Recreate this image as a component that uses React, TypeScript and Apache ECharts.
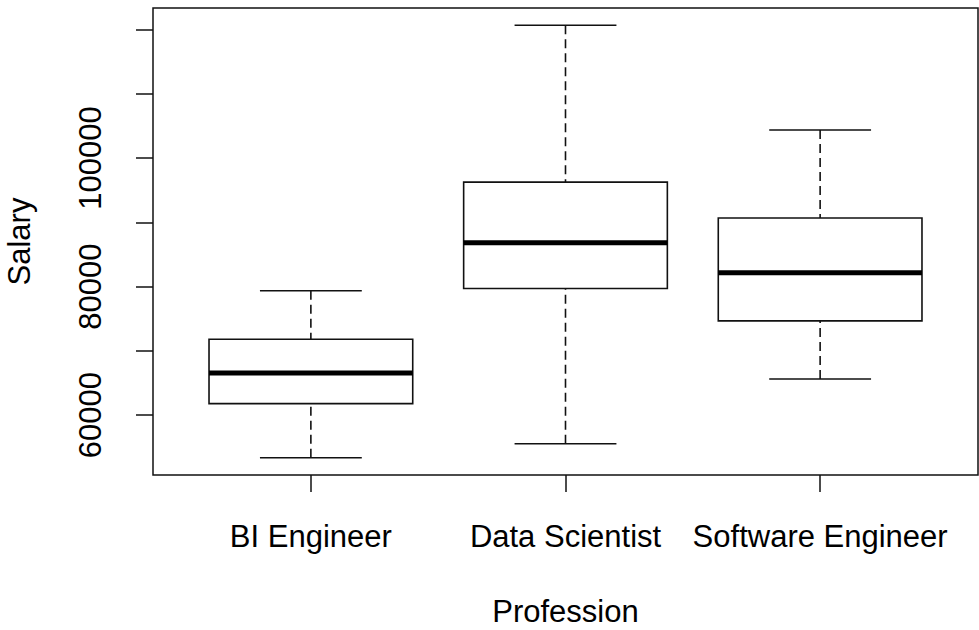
import React, { useEffect, useRef } from "react";
import * as echarts from "echarts";

const categories = ["BI Engineer", "Data Scientist", "Software Engineer"];
const lowerWhisker = [53360, 55540, 65620];
const firstQuartile = [61780, 79710, 74660];
const medianValues = [66550, 86830, 82150];
const thirdQuartile = [71810, 96250, 90680];
const upperWhisker = [79340, 120670, 104360];
const yTicks = [60000, 70000, 80000, 90000, 100000, 110000, 120000];
const yLabels = [60000, 80000, 100000];

const FONT = "Liberation Sans, Arial, sans-serif";

export default function App() {
  const ref = useRef<HTMLDivElement>(null);
  useEffect(() => {
    if (!ref.current) return;
    const chart = echarts.init(ref.current, null, { renderer: "svg" });
    const allLo = Math.min(...lowerWhisker);
    const allHi = Math.max(...upperWhisker);
    const range = allHi - allLo;
    const data = categories.map((_, i) => [
      i + 1,
      lowerWhisker[i],
      firstQuartile[i],
      medianValues[i],
      thirdQuartile[i],
      upperWhisker[i],
    ]);
    const n = categories.length;
    chart.setOption({
      animation: false,
      backgroundColor: "#fff",
      grid: {
        left: 153,
        right: 1,
        top: 8,
        bottom: 155,
        show: true,
        borderColor: "#111",
        borderWidth: 1.5,
        backgroundColor: "transparent",
        outerBoundsMode: "none",
        containLabel: false,
      },
      xAxis: {
        type: "value",
        min: 1 - 0.5 - 0.04 * n,
        max: n + 0.5 + 0.04 * n,
        splitLine: { show: false },
        axisLine: { show: false, onZero: false },
        axisTick: {
          show: true,
          customValues: categories.map((_, i) => i + 1),
          length: 17,
          lineStyle: { color: "#111", width: 1.5 },
        },
        axisLabel: {
          customValues: categories.map((_, i) => i + 1),
          formatter: (v: number) => categories[Math.round(v) - 1] ?? "",
          fontFamily: FONT,
          fontSize: 31,
          color: "#000",
          margin: 46,
        },
        name: "Profession",
        nameLocation: "middle",
        nameGap: 121,
        nameTextStyle: {
          fontFamily: FONT,
          fontSize: 31,
          color: "#000",
        },
      },
      yAxis: {
        type: "value",
        min: allLo - 0.04 * range,
        max: allHi + 0.04 * range,
        splitLine: { show: false },
        axisLine: { show: false, onZero: false },
        axisTick: {
          show: true,
          customValues: yTicks,
          length: 17,
          lineStyle: { color: "#111", width: 1.5 },
        },
        axisLabel: {
          customValues: yLabels,
          formatter: (v: number) => String(v),
          rotate: 90,
          fontFamily: FONT,
          fontSize: 31,
          color: "#000",
          margin: 47,
        },
        name: "Salary",
        nameLocation: "middle",
        nameGap: 118,
        nameTextStyle: {
          fontFamily: FONT,
          fontSize: 31,
          color: "#000",
        },
      },
      series: [
        {
          type: "custom",
          data,
          encode: { x: 0, y: [1, 2, 3, 4, 5] },
          renderItem: (params: any, api: any) => {
            const x = api.value(0);
            const lo = api.coord([x, api.value(1)]);
            const q1 = api.coord([x, api.value(2)]);
            const md = api.coord([x, api.value(3)]);
            const q3 = api.coord([x, api.value(4)]);
            const hi = api.coord([x, api.value(5)]);
            const halfW = api.size([0.8, 0])[0] / 2;
            const capHalf = halfW / 2;
            const cx = lo[0];
            const stroke = { stroke: "#111", lineWidth: 1.6, fill: null };
            return {
              type: "group",
              children: [
                {
                  type: "line",
                  shape: { x1: cx, y1: lo[1], x2: cx, y2: q1[1] },
                  style: { ...stroke, lineDash: [9, 5] },
                },
                {
                  type: "line",
                  shape: { x1: cx, y1: hi[1], x2: cx, y2: q3[1] },
                  style: { ...stroke, lineDash: [9, 5] },
                },
                {
                  type: "line",
                  shape: { x1: cx - capHalf, y1: lo[1], x2: cx + capHalf, y2: lo[1] },
                  style: stroke,
                },
                {
                  type: "line",
                  shape: { x1: cx - capHalf, y1: hi[1], x2: cx + capHalf, y2: hi[1] },
                  style: stroke,
                },
                {
                  type: "rect",
                  shape: { x: cx - halfW, y: q3[1], width: 2 * halfW, height: q1[1] - q3[1] },
                  style: { stroke: "#111", lineWidth: 1.6, fill: "#fff" },
                },
                {
                  type: "line",
                  shape: { x1: cx - halfW, y1: md[1], x2: cx + halfW, y2: md[1] },
                  style: { stroke: "#000", lineWidth: 5 },
                },
              ],
            };
          },
        },
      ],
    });
    return () => chart.dispose();
  }, []);
  return (
    <div
      ref={ref}
      style={{ position: "fixed", left: 0, top: 0, width: 979, height: 630 }}
    />
  );
}
